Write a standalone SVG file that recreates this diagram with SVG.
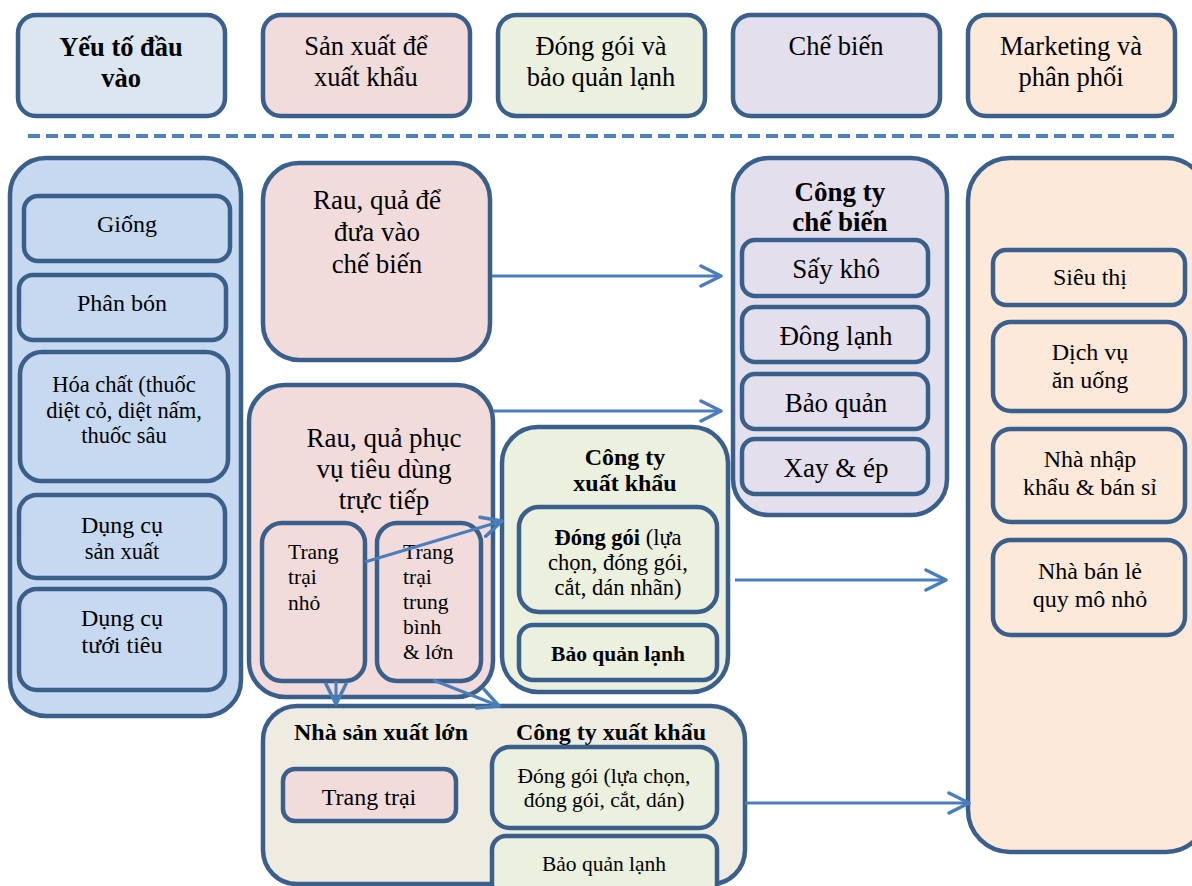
<svg xmlns="http://www.w3.org/2000/svg" width="1192" height="886" viewBox="0 0 1192 886">
  <defs>
    <marker id="chev" markerUnits="userSpaceOnUse" markerWidth="24" markerHeight="24" viewBox="0 0 24 24" refX="22" refY="12" orient="auto">
      <path d="M2,2 L22,12 L2,22" fill="none" stroke="#4a7ebb" stroke-width="3.5" stroke-linecap="round" stroke-linejoin="round"/>
    </marker>
    <style>
      .box { stroke: #3a5f8b; stroke-width: 4.5; }
      .blue { fill: #dce6f1; }
      .blue2 { fill: #c6d9f0; }
      .pink { fill: #f2dcdb; }
      .green { fill: #ebf1de; }
      .lilac { fill: #e4dfec; }
      .peach { fill: #fde9d9; }
      .tan { fill: #eeece1; }
      text { font-family: "Liberation Serif", "Times New Roman", serif; fill: #000; text-anchor: middle; }
      .h { font-size: 26.5px; }
      .b { font-weight: bold; }
      .m { font-size: 27px; }
      .s { font-size: 24px; }
      .xm { font-size: 22.5px; }
      .xs { font-size: 21.5px; }
      .l { text-anchor: start; }
      .conn line { stroke: #4a7ebb; stroke-width: 3; marker-end: url(#chev); }
    </style>
  </defs>

  <!-- stage headers -->
  <g id="hdr-inputs">
    <rect class="box blue" x="18" y="15" width="207" height="101" rx="18"/>
    <text class="h b" x="121" y="56">Yếu tố đầu</text>
    <text class="h b" x="121" y="87">vào</text>
  </g>
  <g id="hdr-production">
    <rect class="box pink" x="263" y="15" width="207" height="101" rx="18"/>
    <text class="h" x="366" y="55">Sản xuất để</text>
    <text class="h" x="366" y="86">xuất khẩu</text>
  </g>
  <g id="hdr-packing">
    <rect class="box green" x="498" y="15" width="207" height="101" rx="18"/>
    <text class="h" x="601" y="55">Đóng gói và</text>
    <text class="h" x="601" y="86">bảo quản lạnh</text>
  </g>
  <g id="hdr-processing">
    <rect class="box lilac" x="733" y="15" width="207" height="101" rx="18"/>
    <text class="h" x="836" y="55">Chế biến</text>
  </g>
  <g id="hdr-marketing">
    <rect class="box peach" x="968" y="15" width="207" height="101" rx="18"/>
    <text class="h" x="1071" y="55">Marketing và</text>
    <text class="h" x="1071" y="86">phân phối</text>
  </g>

  <line x1="28" y1="136" x2="1175" y2="136" stroke="#4f81bd" stroke-width="4" stroke-dasharray="12 6"/>

  <!-- inputs column -->
  <g id="inputs">
    <rect class="box blue2" x="10" y="158" width="231" height="558" rx="36"/>
    <g id="in-seed">
      <rect class="box blue2" x="24" y="196" width="206" height="65" rx="14"/>
      <text class="s" x="127" y="232">Giống</text>
    </g>
    <g id="in-fertilizer">
      <rect class="box blue2" x="19" y="275" width="207" height="65" rx="14"/>
      <text class="s" x="122" y="311">Phân bón</text>
    </g>
    <g id="in-chemicals">
      <rect class="box blue2" x="20" y="352" width="208" height="129" rx="22"/>
      <text class="xm" x="124" y="392">Hóa chất (thuốc</text>
      <text class="xm" x="124" y="418">diệt cỏ, diệt nấm,</text>
      <text class="xm" x="124" y="443">thuốc sâu</text>
    </g>
    <g id="in-tools">
      <rect class="box blue2" x="19" y="495" width="206" height="83" rx="18"/>
      <text class="s" x="122" y="533">Dụng cụ</text>
      <text class="xm" x="122" y="559">sản xuất</text>
    </g>
    <g id="in-irrigation">
      <rect class="box blue2" x="19" y="589" width="206" height="101" rx="18"/>
      <text class="s" x="122" y="626">Dụng cụ</text>
      <text class="s" x="122" y="653">tưới tiêu</text>
    </g>
  </g>

  <!-- production -->
  <g id="for-processing">
    <rect class="box pink" x="263" y="163" width="227" height="197" rx="36"/>
    <text class="m" x="377" y="209">Rau, quả để</text>
    <text class="m" x="377" y="241">đưa vào</text>
    <text class="m" x="377" y="273">chế biến</text>
  </g>
  <g id="for-fresh">
    <rect class="box pink" x="249" y="385" width="244" height="312" rx="36"/>
    <text class="m" x="384" y="447">Rau, quả phục</text>
    <text class="m" x="384" y="478">vụ tiêu dùng</text>
    <text class="m" x="384" y="509">trực tiếp</text>
    <g id="farm-small">
      <rect class="box pink" x="262" y="523" width="103" height="158" rx="20"/>
      <text class="xs l" x="288" y="559">Trang</text>
      <text class="xs l" x="288" y="584">trại</text>
      <text class="xs l" x="288" y="610">nhỏ</text>
    </g>
    <g id="farm-large">
      <rect class="box pink" x="377" y="523" width="104" height="158" rx="20"/>
      <text class="xs l" x="403" y="559">Trang</text>
      <text class="xs l" x="403" y="584">trại</text>
      <text class="xs l" x="403" y="609">trung</text>
      <text class="xs l" x="403" y="634">bình</text>
      <text class="xs l" x="403" y="659">&amp; lớn</text>
    </g>
  </g>

  <!-- exporter -->
  <g id="exporter">
    <rect class="box green" x="502" y="427" width="226" height="265" rx="36"/>
    <text class="s b" x="625" y="465">Công ty</text>
    <text class="s b" x="625" y="491">xuất khẩu</text>
    <g id="exp-pack">
      <rect class="box green" x="519" y="507" width="198" height="105" rx="20"/>
      <text class="xm" x="618" y="545"><tspan class="b">Đóng gói</tspan> (lựa</text>
      <text class="xm" x="618" y="570">chọn, đóng gói,</text>
      <text class="xm" x="618" y="595">cắt, dán nhãn)</text>
    </g>
    <g id="exp-cold">
      <rect class="box green" x="519" y="625" width="198" height="55" rx="14"/>
      <text class="xs b" x="618" y="661">Bảo quản lạnh</text>
    </g>
  </g>

  <!-- large producer + exporter -->
  <g id="integrated">
    <rect class="box tan" x="263" y="706" width="482" height="178" rx="34"/>
    <text class="s b" x="381" y="740">Nhà sản xuất lớn</text>
    <text class="s b" x="611" y="740">Công ty xuất khẩu</text>
    <g id="int-farm">
      <rect class="box pink" x="283" y="769" width="173" height="52" rx="12"/>
      <text class="s" x="369" y="805">Trang trại</text>
    </g>
    <g id="int-pack">
      <rect class="box green" x="492" y="747" width="225" height="81" rx="18"/>
      <text class="xs" x="604" y="783">Đóng gói (lựa chọn,</text>
      <text class="xs" x="604" y="807">đóng gói, cắt, dán)</text>
    </g>
    <g id="int-cold">
      <rect class="box green" x="492" y="836" width="225" height="62" rx="14"/>
      <text class="xs" x="604" y="871">Bảo quản lạnh</text>
    </g>
  </g>

  <!-- processing company -->
  <g id="processor">
    <rect class="box lilac" x="733" y="158" width="214" height="357" rx="36"/>
    <text class="m b" x="840" y="201">Công ty</text>
    <text class="m b" x="840" y="231">chế biến</text>
    <g id="proc-dry">
      <rect class="box lilac" x="742" y="240" width="186" height="56" rx="13"/>
      <text class="m" x="836" y="278">Sấy khô</text>
    </g>
    <g id="proc-freeze">
      <rect class="box lilac" x="742" y="307" width="186" height="55" rx="13"/>
      <text class="m" x="836" y="345">Đông lạnh</text>
    </g>
    <g id="proc-preserve">
      <rect class="box lilac" x="742" y="374" width="186" height="55" rx="13"/>
      <text class="m" x="836" y="412">Bảo quản</text>
    </g>
    <g id="proc-juice">
      <rect class="box lilac" x="742" y="439" width="186" height="55" rx="13"/>
      <text class="m" x="836" y="477">Xay &amp; ép</text>
    </g>
  </g>

  <!-- marketing & distribution -->
  <g id="market">
    <rect class="box peach" x="968" y="158" width="240" height="694" rx="42"/>
    <g id="mk-super">
      <rect class="box peach" x="993" y="250" width="192" height="55" rx="13"/>
      <text class="s" x="1090" y="285">Siêu thị</text>
    </g>
    <g id="mk-food">
      <rect class="box peach" x="993" y="322" width="192" height="89" rx="18"/>
      <text class="s" x="1090" y="360">Dịch vụ</text>
      <text class="s" x="1090" y="388">ăn uống</text>
    </g>
    <g id="mk-import">
      <rect class="box peach" x="993" y="429" width="192" height="93" rx="18"/>
      <text class="s" x="1090" y="467">Nhà nhập</text>
      <text class="s" x="1090" y="495">khẩu &amp; bán sỉ</text>
    </g>
    <g id="mk-retail">
      <rect class="box peach" x="993" y="540" width="192" height="95" rx="18"/>
      <text class="s" x="1090" y="579">Nhà bán lẻ</text>
      <text class="s" x="1090" y="607">quy mô nhỏ</text>
    </g>
  </g>

  <!-- flows -->
  <g id="connectors" class="conn">
    <line x1="492" y1="276" x2="721" y2="276"/>
    <line x1="493" y1="411" x2="721" y2="411"/>
    <line x1="365" y1="562" x2="502" y2="521"/>
    <line x1="336" y1="681" x2="336" y2="704"/>
    <line x1="433" y1="680" x2="499" y2="706"/>
    <line x1="735" y1="580" x2="946" y2="580"/>
    <line x1="745" y1="803" x2="969" y2="803"/>
  </g>
</svg>
